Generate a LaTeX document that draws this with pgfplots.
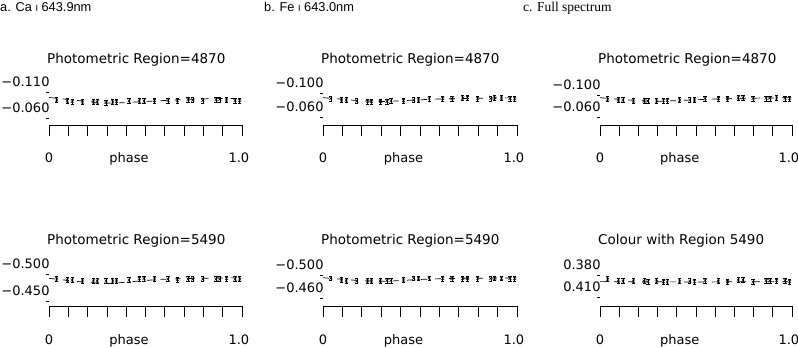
\documentclass[border=0pt]{standalone}
\usepackage{fontspec}
\setmainfont{DejaVu Sans}
\newfontfamily\capfont{Liberation Sans}
\newfontfamily\serifcap{Liberation Serif}
\usepackage{pgfplots}
\pgfplotsset{compat=1.18}

\pgfplotsset{
  panel/.style={
    scale only axis, height=37pt,
    xmin=0, xmax=1, y dir=reverse,
    axis x line*=bottom, axis y line*=left,
    x axis line style={-, line width=0.7pt},
    y axis line style={draw=none},
    tick align=outside,
    xtick={0,0.1,0.2,0.3,0.4,0.5,0.6,0.7,0.8,0.9,1},
    xticklabels={},
    xtick style={/pgfplots/major tick length=11pt, line width=0.7pt, black},
    ytick style={/pgfplots/major tick length=3pt, line width=0.7pt, black},
    yticklabel style={font=\fontsize{13}{13}\selectfont, anchor=base east, inner sep=0pt, yshift=5.5pt, xshift=5pt},
    clip=false,
  },
  obs/.style={black, line width=0.5pt, only marks, mark=x, mark size=2pt,
    error bars/.cd, y dir=both, y fixed=#1, error mark=|,
    error mark options={mark size=1.6pt, line width=0.5pt, black},
    error bar style={line width=0.5pt, black}},
  model/.style={black, line width=0.7pt, no marks, smooth, dash pattern=on 6pt off 8pt},
}
\tikzset{
  ptitle/.style={anchor=base west, inner sep=0pt, xshift=-2pt, yshift=24.7pt, font=\fontsize{13.5}{13.5}\selectfont},
  plab/.style={anchor=base, inner sep=0pt, yshift=-38pt, font=\fontsize{13}{13}\selectfont},
}

\begin{document}
\begin{tikzpicture}
\useasboundingbox (0pt,0pt) rectangle (798pt,348pt);
\node[anchor=base west, inner sep=0pt, font=\capfont\fontsize{12.8}{12.8}\selectfont] at (0pt,336pt) {a. Ca {\fontsize{9}{9}\selectfont I} 643.9nm};
\node[anchor=base west, inner sep=0pt, font=\capfont\fontsize{12.8}{12.8}\selectfont] at (264pt,336pt) {b. Fe {\fontsize{9}{9}\selectfont I} 643.0nm};
\node[anchor=base west, inner sep=0pt, font=\serifcap\fontsize{13.5}{13.5}\selectfont] at (523pt,336pt) {c. Full spectrum};

% a, top
\begin{axis}[panel, at={(49pt,223pt)}, width=193pt, ymin=-0.11769, ymax=-0.04654,
  ytick={-0.110,-0.060}, yticklabels={−0.110,−0.060}]
\addplot[model] coordinates {(0,-0.0994) (0.1,-0.0956) (0.2,-0.0917) (0.3,-0.0888) (0.38,-0.0893) (0.45,-0.0908) (0.55,-0.0927) (0.65,-0.0946) (0.75,-0.0962) (0.85,-0.0971) (1,-0.0979)};
\addplot[obs=0.0048] coordinates {(0.04,-0.0946) (0.095,-0.0927) (0.12,-0.0917) (0.174,-0.0908) (0.23,-0.0908) (0.25,-0.0908) (0.295,-0.0898) (0.33,-0.0908) (0.35,-0.0917) (0.415,-0.0927) (0.468,-0.0927) (0.492,-0.0927) (0.547,-0.0937) (0.617,-0.0937) (0.665,-0.0937) (0.72,-0.0956) (0.745,-0.0946) (0.797,-0.0937) (0.865,-0.0956) (0.885,-0.0956) (0.92,-0.0946) (0.964,-0.0937) (0.988,-0.0937)};
\node[ptitle] at (axis description cs:0,1) {Photometric Region=4870};
\node[plab] at (axis description cs:0,0) {0};
\node[plab] at (axis description cs:0.415,0) {phase};
\node[plab] at (axis description cs:0.984,0) {1.0};
\end{axis}

% b, top
\begin{axis}[panel, at={(323pt,223pt)}, width=194pt, ymin=-0.10833, ymax=-0.04667,
  ytick={-0.100,-0.060}, yticklabels={−0.100,−0.060}]
\addplot[model] coordinates {(0,-0.0922) (0.1,-0.0895) (0.2,-0.0870) (0.3,-0.0858) (0.4,-0.0870) (0.5,-0.0887) (0.6,-0.0900) (0.7,-0.0908) (0.8,-0.0913) (0.9,-0.0917) (1,-0.0920)};
\addplot[obs=0.0042] coordinates {(0.04,-0.0908) (0.095,-0.0883) (0.12,-0.0883) (0.174,-0.0867) (0.23,-0.0858) (0.25,-0.0858) (0.295,-0.0858) (0.33,-0.0858) (0.35,-0.0867) (0.415,-0.0875) (0.468,-0.0883) (0.492,-0.0883) (0.547,-0.0908) (0.617,-0.0908) (0.665,-0.0908) (0.72,-0.0917) (0.745,-0.0925) (0.797,-0.0908) (0.865,-0.0908) (0.885,-0.0917) (0.92,-0.0917) (0.964,-0.0908) (0.988,-0.0908)};
\node[ptitle] at (axis description cs:0,1) {Photometric Region=4870};
\node[plab] at (axis description cs:0,0) {0};
\node[plab] at (axis description cs:0.415,0) {phase};
\node[plab] at (axis description cs:0.984,0) {1.0};
\end{axis}

% c, top
\begin{axis}[panel, at={(600pt,223pt)}, width=192pt, ymin=-0.11273, ymax=-0.04545,
  ytick={-0.100,-0.060}, yticklabels={−0.100,−0.060}]
\addplot[model] coordinates {(0,-0.0951) (0.1,-0.0922) (0.2,-0.0898) (0.3,-0.0887) (0.4,-0.0898) (0.5,-0.0913) (0.6,-0.0927) (0.7,-0.0936) (0.8,-0.0942) (0.9,-0.0947) (1,-0.0949)};
\addplot[obs=0.0045] coordinates {(0.04,-0.0927) (0.095,-0.0909) (0.12,-0.0909) (0.174,-0.0891) (0.23,-0.0891) (0.25,-0.0891) (0.295,-0.0891) (0.33,-0.0900) (0.35,-0.0900) (0.415,-0.0909) (0.468,-0.0909) (0.492,-0.0909) (0.547,-0.0936) (0.617,-0.0936) (0.665,-0.0936) (0.72,-0.0945) (0.745,-0.0949) (0.797,-0.0936) (0.865,-0.0940) (0.885,-0.0940) (0.92,-0.0945) (0.964,-0.0940) (0.988,-0.0936)};
\node[ptitle] at (axis description cs:0,1) {Photometric Region=4870};
\node[plab] at (axis description cs:0,0) {0};
\node[plab] at (axis description cs:0.415,0) {phase};
\node[plab] at (axis description cs:0.984,0) {1.0};
\end{axis}

% a, bottom
\begin{axis}[panel, at={(49pt,42pt)}, width=193pt, ymin=-0.50926, ymax=-0.44074,
  ytick={-0.500,-0.450}, yticklabels={−0.500,−0.450}]
\addplot[model] coordinates {(0,-0.4920) (0.1,-0.4880) (0.2,-0.4843) (0.3,-0.4824) (0.38,-0.4843) (0.5,-0.4880) (0.6,-0.4904) (0.7,-0.4913) (0.8,-0.4920) (0.9,-0.4926) (1,-0.4930)};
\addplot[obs=0.0046] coordinates {(0.04,-0.4907) (0.095,-0.4889) (0.12,-0.4889) (0.174,-0.4870) (0.23,-0.4870) (0.25,-0.4870) (0.295,-0.4870) (0.33,-0.4870) (0.35,-0.4870) (0.415,-0.4889) (0.468,-0.4917) (0.492,-0.4917) (0.547,-0.4907) (0.617,-0.4907) (0.665,-0.4898) (0.72,-0.4907) (0.745,-0.4907) (0.797,-0.4907) (0.865,-0.4907) (0.885,-0.4907) (0.92,-0.4917) (0.964,-0.4907) (0.988,-0.4907)};
\node[ptitle] at (axis description cs:0,1) {Photometric Region=5490};
\node[plab] at (axis description cs:0,0) {0};
\node[plab] at (axis description cs:0.415,0) {phase};
\node[plab] at (axis description cs:0.984,0) {1.0};
\end{axis}

% b, bottom
\begin{axis}[panel, at={(323pt,42pt)}, width=194pt, ymin=-0.51043, ymax=-0.44609,
  ytick={-0.500,-0.460}, yticklabels={−0.500,−0.460}]
\addplot[model] coordinates {(0,-0.4953) (0.1,-0.4925) (0.2,-0.4901) (0.3,-0.4890) (0.4,-0.4904) (0.5,-0.4922) (0.6,-0.4934) (0.7,-0.4941) (0.8,-0.4944) (0.9,-0.4948) (1,-0.4950)};
\addplot[obs=0.0043] coordinates {(0.04,-0.4943) (0.095,-0.4913) (0.12,-0.4896) (0.174,-0.4896) (0.23,-0.4896) (0.25,-0.4896) (0.295,-0.4896) (0.33,-0.4904) (0.35,-0.4904) (0.415,-0.4913) (0.468,-0.4943) (0.492,-0.4943) (0.547,-0.4943) (0.617,-0.4939) (0.665,-0.4939) (0.72,-0.4939) (0.745,-0.4939) (0.797,-0.4939) (0.865,-0.4939) (0.885,-0.4943) (0.92,-0.4943) (0.964,-0.4939) (0.988,-0.4939)};
\node[ptitle] at (axis description cs:0,1) {Photometric Region=5490};
\node[plab] at (axis description cs:0,0) {0};
\node[plab] at (axis description cs:0.415,0) {phase};
\node[plab] at (axis description cs:0.984,0) {1.0};
\end{axis}

% c, bottom
\begin{axis}[panel, at={(600pt,42pt)}, width=192pt, ymin=0.37182, ymax=0.42182,
  ytick={0.380,0.410}, yticklabels={0.380,0.410}]
\addplot[model] coordinates {(0,0.3889) (0.25,0.3891) (0.5,0.3893) (0.75,0.3891) (1,0.3889)};
\addplot[obs=0.0034] coordinates {(0.04,0.3855) (0.095,0.3882) (0.12,0.3882) (0.174,0.3882) (0.23,0.3882) (0.25,0.3889) (0.295,0.3882) (0.33,0.3889) (0.35,0.3895) (0.415,0.3882) (0.468,0.3882) (0.492,0.3889) (0.547,0.3875) (0.617,0.3882) (0.665,0.3889) (0.72,0.3868) (0.745,0.3868) (0.797,0.3895) (0.865,0.3875) (0.885,0.3875) (0.92,0.3875) (0.964,0.3875) (0.988,0.3889)};
\node[ptitle] at (axis description cs:0,1) {Colour with Region 5490};
\node[plab] at (axis description cs:0,0) {0};
\node[plab] at (axis description cs:0.415,0) {phase};
\node[plab] at (axis description cs:0.984,0) {1.0};
\end{axis}
\end{tikzpicture}
\end{document}
